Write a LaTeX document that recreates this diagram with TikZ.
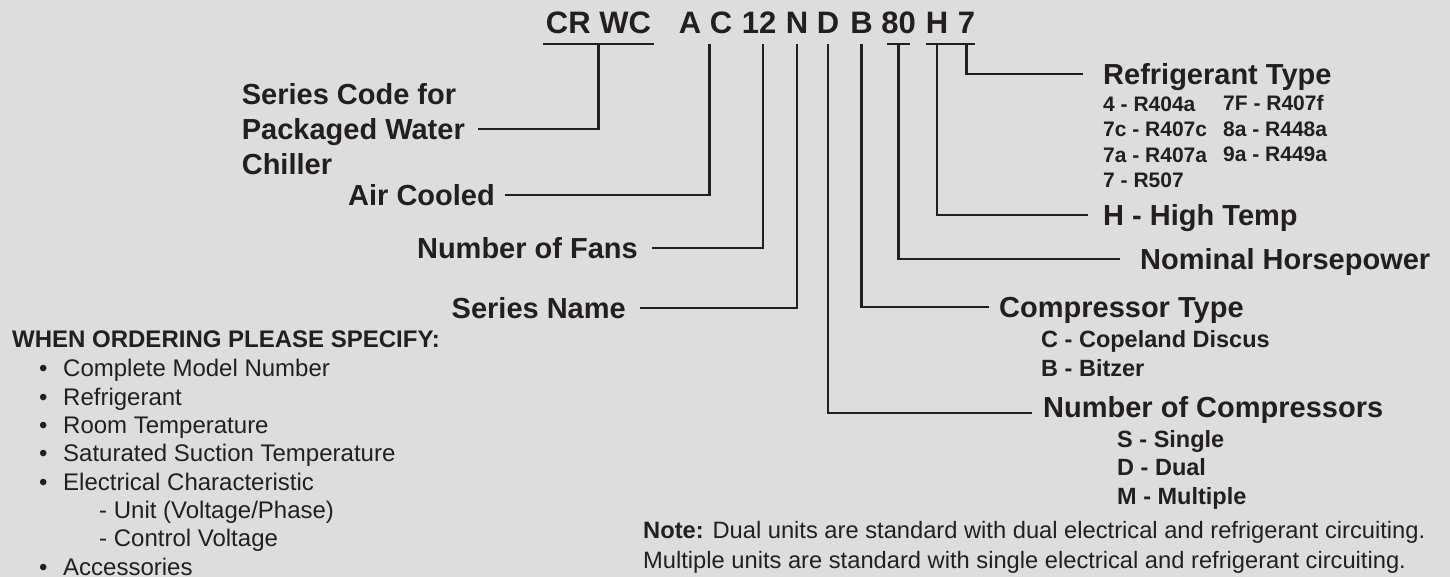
\documentclass[tikz,border=0pt]{standalone}
\usepackage{fontspec}
\setmainfont{Liberation Sans}
\usepackage{tikz}
\usetikzlibrary{positioning}
\definecolor{ckInk}{HTML}{231F20}
\definecolor{ckBg}{HTML}{DDDDDD}
\newcommand\blt{\makebox[24pt][l]{\textbullet}}
\tikzset{
  codebox/.style={inner xsep=0pt,inner ysep=10pt,
    text height=22pt,text depth=0pt,anchor=base,
    font=\fontsize{31}{31}\selectfont\bfseries,text=ckInk},
  headbox/.style={inner xsep=12pt,inner ysep=0pt,
    font=\fontsize{29}{35}\selectfont\bfseries,text=ckInk},
  headline/.style={headbox,text height=21pt,text depth=0pt},
  subbox/.style={inner sep=0pt,anchor=base west,align=left,
    font=\fontsize{21}{25.6}\selectfont\bfseries,text=ckInk},
  bodybox/.style={inner sep=0pt,anchor=base west,align=left,
    font=\fontsize{24}{28.3}\selectfont,text=ckInk},
  conn/.style={draw=ckInk,line width=2.5pt},
}
\begin{document}
\begin{tikzpicture}[x=1pt,y=-1pt]
  \fill[ckBg] (0,0) rectangle (1450,577);
  \useasboundingbox (0,0) rectangle (1450,577);

  \node[codebox] (crwc) at (598.5,34) {CR WC};
  \node[codebox] (cA) at (690,34) {A};
  \node[codebox] (cC) at (721,34) {C};
  \node[codebox] (c12) at (759,34) {12};
  \node[codebox] (cN) at (797,34) {N};
  \node[codebox] (cD) at (828,34) {D};
  \node[codebox] (cB) at (861.5,34) {B};
  \node[codebox] (c80) at (898.5,34) {80};
  \node[codebox] (cH) at (937,34) {H};
  \node[codebox] (c7) at (966.5,34) {7};

  \draw[conn] ([xshift=-3pt]crwc.south west) -- ([xshift=3pt]crwc.south east);
  \draw[conn] ([xshift=6pt]c80.south west) -- ([xshift=-6pt]c80.south east);
  \draw[conn] (cH.south west) -- (c7.south east);

  \node[headbox,align=left,anchor=east,inner xsep=13pt] (sercode) at (478,129)
    {Series Code for\\Packaged Water\\Chiller};
  \node[headline,anchor=east,inner xsep=10pt] (aircool) at (505,195) {Air Cooled};
  \node[headline,anchor=east,inner xsep=14pt] (fans) at (652,248) {Number of Fans};
  \node[headline,anchor=east,inner xsep=14pt] (sername) at (640,308) {Series Name};
  \node[headline,anchor=west,inner xsep=20pt] (refr) at (1083,74) {Refrigerant Type};
  \node[headline,anchor=west,inner xsep=15pt] (hitemp) at (1088,215) {H - High Temp};
  \node[headline,anchor=west,inner xsep=20pt] (nomhp) at (1120,259) {Nominal Horsepower};
  \node[headline,anchor=west,inner xsep=10pt] (comptype) at (989,307) {Compressor Type};
  \node[headline,anchor=west,inner xsep=11pt] (ncomp) at (1032,407) {Number of Compressors};

  \draw[conn] (crwc.south) |- (sercode.east);
  \draw[conn] (cC.south west) |- (aircool.east);
  \draw[conn] ([xshift=4pt]c12.south) |- (fans.east);
  \draw[conn] (cN.south) |- (sername.east);
  \draw[conn] (cD.south) |- ([yshift=-6pt]ncomp.west);
  \draw[conn] (cB.south) |- (comptype.west);
  \draw[conn] (c80.south) |- (nomhp.west);
  \draw[conn] (cH.south) |- (hitemp.west);
  \draw[conn] (c7.south) |- (refr.west);

  \node[subbox] (reflistA) at (1103,188)
    {4 - R404a\\7c - R407c\\7a - R407a\\7 - R507};
  \node[subbox] (reflistB) at (1223,162)
    {7F - R407f\\8a - R448a\\9a - R449a};
  \node[subbox,font=\fontsize{23.5}{29}\selectfont\bfseries] (ctlist) at (1041,376)
    {C - Copeland Discus\\B - Bitzer};
  \node[subbox,font=\fontsize{23.5}{28.5}\selectfont\bfseries] (nclist) at (1117,504)
    {S - Single\\D - Dual\\M - Multiple};

  \node[bodybox,font=\fontsize{24}{24}\selectfont\bfseries] (ordhead) at (12,347)
    {WHEN ORDERING PLEASE SPECIFY:};
  \node[bodybox] (ordlist) at (39,575)
    {\blt Complete Model Number\\\blt Refrigerant\\\blt Room Temperature\\
     \blt Saturated Suction Temperature\\\blt Electrical Characteristic\\
     \hspace*{60pt}- Unit (Voltage/Phase)\\\hspace*{60pt}- Control Voltage\\
     \blt Accessories};
  \node[bodybox,font=\fontsize{23.7}{30}\selectfont] (note) at (643,568)
    {\textbf{Note:} Dual units are standard with dual electrical and refrigerant circuiting.\\
     Multiple units are standard with single electrical and refrigerant circuiting.};
\end{tikzpicture}
\end{document}
